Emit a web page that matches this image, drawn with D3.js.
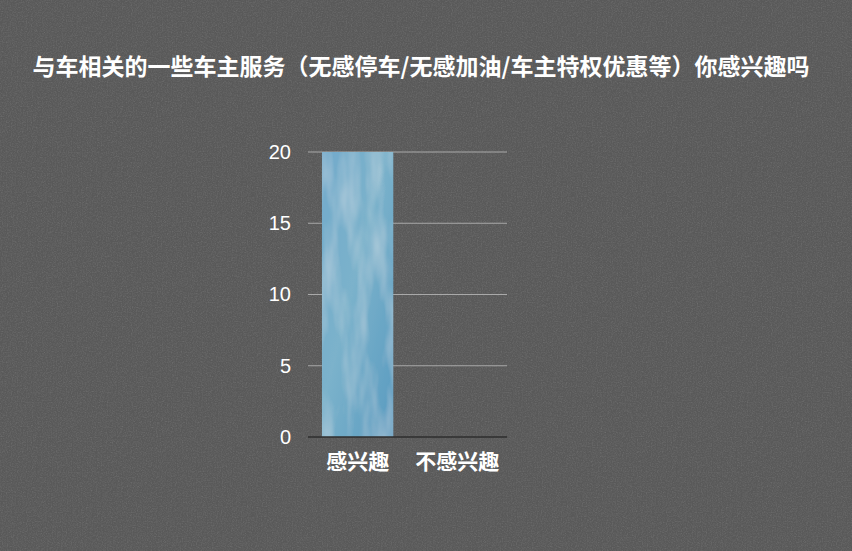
<!DOCTYPE html>
<html lang="zh">
<head>
<meta charset="utf-8">
<title>车主服务兴趣</title>
<script src="https://cdn.jsdelivr.net/npm/d3@7"></script>
<style>
  html, body { margin: 0; padding: 0; background: #595959; }
  svg { display: block; }
</style>
</head>
<body>
<div id="chart"></div>
<script>
// chart data
var categories = ["感兴趣", "不感兴趣"];
var values = [20, 0];
var yTicks = [0, 5, 10, 15, 20];
var title = "与车相关的一些车主服务（无感停车/无感加油/车主特权优惠等）你感兴趣吗";

var W = 852, H = 551;
var margin = {top: 152, right: 345, bottom: 114, left: 308},
    width = W - margin.left - margin.right,
    height = H - margin.top - margin.bottom;

var root = d3.select("#chart").append("svg")
  .attr("width", W).attr("height", H);

var defs = root.append("defs");

// grainy paper background
var noise = defs.append("filter").attr("id", "grain")
  .attr("x", 0).attr("y", 0).attr("width", "100%").attr("height", "100%");
noise.append("feTurbulence").attr("type", "fractalNoise")
  .attr("baseFrequency", 0.8).attr("numOctaves", 3).attr("seed", 3).attr("result", "n");
noise.append("feColorMatrix").attr("type", "matrix")
  .attr("values", "0 0 0 0 0.5  0 0 0 0 0.5  0 0 0 0 0.5  0.35 0.35 0.35 0 -0.45");

// brushy blue fill for the bar
var grad = defs.append("linearGradient").attr("id", "barGrad")
  .attr("x1", 0).attr("y1", 0).attr("x2", 1).attr("y2", 1);
grad.append("stop").attr("offset", "0%").attr("stop-color", "#72aacb");
grad.append("stop").attr("offset", "45%").attr("stop-color", "#7bb2cb");
grad.append("stop").attr("offset", "100%").attr("stop-color", "#5a9bc0");

var brush = defs.append("filter").attr("id", "brush")
  .attr("x", 0).attr("y", 0).attr("width", "100%").attr("height", "100%");
brush.append("feTurbulence").attr("type", "fractalNoise")
  .attr("baseFrequency", "0.05 0.012").attr("numOctaves", 3).attr("seed", 7).attr("result", "t");
brush.append("feColorMatrix").attr("in", "t").attr("type", "matrix")
  .attr("values", "0 0 0 0 0.78  0 0 0 0 0.86  0 0 0 0 0.88  0.8 0 0 0 -0.33").attr("result", "hl");
brush.append("feComposite").attr("in", "hl").attr("in2", "SourceGraphic").attr("operator", "in").attr("result", "hlc");
brush.append("feMerge").selectAll("feMergeNode")
  .data(["SourceGraphic", "hlc"]).enter().append("feMergeNode").attr("in", function(d) { return d; });

root.append("rect").attr("width", W).attr("height", H).attr("fill", "#595959");
root.append("rect").attr("width", W).attr("height", H).attr("filter", "url(#grain)").attr("opacity", 0.55);

// title
root.append("text")
  .attr("x", 421).attr("y", 75)
  .attr("text-anchor", "middle")
  .style("font-family", "'Noto Sans CJK SC', 'Noto Sans', sans-serif")
  .style("font-size", "23px").style("font-weight", "bold")
  .attr("fill", "#ffffff")
  .text(title);

var svg = root.append("g")
  .attr("transform", "translate(" + margin.left + "," + margin.top + ")");

var x = d3.scaleBand().domain(categories).range([0, width])
  .paddingInner(0.285).paddingOuter(0.14);
var y = d3.scaleLinear().domain([0, 20]).range([height, 0]);

// gridlines
svg.append("g").selectAll("line.grid")
  .data(yTicks.filter(function(d) { return d > 0; }))
  .enter().append("line")
  .attr("x1", 0).attr("x2", width)
  .attr("y1", function(d) { return y(d); }).attr("y2", function(d) { return y(d); })
  .attr("stroke", "#a9a9a9").attr("stroke-width", 1.2);

// bars
svg.selectAll("rect.bar")
  .data(values)
  .enter().append("rect")
  .attr("class", "bar")
  .attr("x", function(d, i) { return x(categories[i]); })
  .attr("y", function(d) { return y(d); })
  .attr("width", x.bandwidth())
  .attr("height", function(d) { return height - y(d); })
  .attr("fill", "url(#barGrad)")
  .attr("filter", "url(#brush)");

// baseline
svg.append("line")
  .attr("x1", 0).attr("x2", width)
  .attr("y1", y(0)).attr("y2", y(0))
  .attr("stroke", "#2e2e2e").attr("stroke-width", 1.5);

// y axis labels
var yAxis = svg.append("g")
  .call(d3.axisLeft(y).tickValues(yTicks).tickSize(0).tickPadding(17));
yAxis.select(".domain").remove();
yAxis.selectAll("text")
  .attr("fill", "#ffffff")
  .style("font-family", "'Liberation Sans', Arial, sans-serif")
  .style("font-size", "20px");

// x axis labels
var xAxis = svg.append("g")
  .attr("transform", "translate(0," + height + ")")
  .call(d3.axisBottom(x).tickSize(0).tickPadding(17));
xAxis.select(".domain").remove();
xAxis.selectAll("text")
  .attr("fill", "#ffffff")
  .style("font-family", "'Noto Sans CJK SC', sans-serif")
  .style("font-size", "21px").style("font-weight", "bold");
</script>
</body>
</html>
